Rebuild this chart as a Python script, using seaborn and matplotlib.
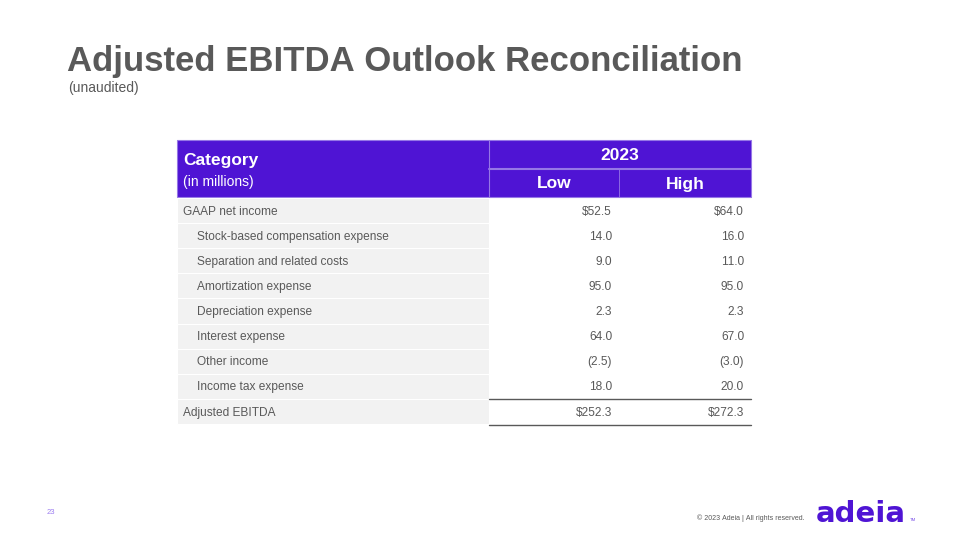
import matplotlib
matplotlib.use("Agg")
import matplotlib.pyplot as plt
from matplotlib.patches import Rectangle
import seaborn as sns

# ---- data ----
title = "Adjusted EBITDA Outlook Reconciliation"
subtitle = "(unaudited)"
year_label = "2023"
col_labels = ["Low", "High"]
categories = ["GAAP net income", "Stock-based compensation expense",
              "Separation and related costs", "Amortization expense",
              "Depreciation expense", "Interest expense", "Other income",
              "Income tax expense", "Adjusted EBITDA"]
indent = [0, 1, 1, 1, 1, 1, 1, 1, 0]
low_vals = ["$52.5", "14.0", "9.0", "95.0", "2.3", "64.0", "(2.5)", "18.0", "$252.3"]
high_vals = ["$64.0", "16.0", "11.0", "95.0", "2.3", "67.0", "(3.0)", "20.0", "$272.3"]

sns.set_theme(style="white")
plt.rcParams['font.family'] = ['Liberation Sans', 'DejaVu Sans']
plt.rcParams['text.kerning_factor'] = 6

PURPLE = "#4f14d4"
LIGHTP = "#9677e6"
GRAY_TXT = "#595959"
CELL_BG = "#f2f2f2"

fig = plt.figure(figsize=(9.6, 5.4), dpi=100)
ax = fig.add_axes([0, 0, 1, 1])
ax.set_xlim(0, 960)
ax.set_ylim(540, 0)
ax.axis("off")

# title
ax.text(67, 62, title, fontsize=25, fontweight="bold", color=GRAY_TXT, va="center", ha="left")
ax.text(68, 88, subtitle, fontsize=10, color=GRAY_TXT, va="center", ha="left")

# geometry
L, C1, C2, R = 177, 489, 619, 751
HT, HM, HB = 140, 169, 197
row_h = 25.1

# header
ax.add_patch(Rectangle((L, HT), R - L, HB - HT, facecolor=PURPLE, edgecolor=LIGHTP, lw=0.8))
ax.plot([C1, C1], [HT, HB], color=LIGHTP, lw=0.8)
ax.plot([C1, R], [HM, HM], color=LIGHTP, lw=1.5)
ax.plot([C2, C2], [HM, HB], color=LIGHTP, lw=0.6)
ax.text(183, 161, "Category", fontsize=12.5, fontweight="bold", color="white", va="center", ha="left")
ax.text(183, 182, "(in millions)", fontsize=10, color="white", va="center", ha="left")
ax.text((C1 + R) / 2, 155, year_label, fontsize=12.5, fontweight="bold", color="white", va="center", ha="center")
ax.text((C1 + C2) / 2, 184, col_labels[0], fontsize=12.5, fontweight="bold", color="white", va="center", ha="center")
ax.text((C2 + R) / 2, 184, col_labels[1], fontsize=12.5, fontweight="bold", color="white", va="center", ha="center")

# body
top = HB + 1
for i, (cat, ind, lo, hi) in enumerate(zip(categories, indent, low_vals, high_vals)):
    y0 = top + i * row_h
    yc = y0 + row_h / 2 + 1.2
    ax.add_patch(Rectangle((L, y0), C1 - L, row_h, facecolor=CELL_BG, edgecolor="white", lw=0.8))
    ax.text(183 + 14 * ind, yc, cat, fontsize=8.6, color=GRAY_TXT, va="center", ha="left")
    ax.text(612, yc, lo, fontsize=8.6, color=GRAY_TXT, va="center", ha="right")
    ax.text(744, yc, hi, fontsize=8.6, color=GRAY_TXT, va="center", ha="right")

last_top = top + (len(categories) - 1) * row_h
ax.plot([C1, R], [last_top, last_top], color=GRAY_TXT, lw=1.0)
ax.plot([C1, R], [last_top + row_h + 1, last_top + row_h + 1], color=GRAY_TXT, lw=1.0)

# footer
ax.text(47, 512, "23", fontsize=5.5, color="#9b7cf0", va="center", ha="left")
ax.text(805, 518, "\u00a9 2023 Adeia | All rights reserved.", fontsize=5, color=GRAY_TXT, va="center", ha="right")
ax.text(816, 522, "adeia", fontsize=21, fontweight="bold", color=PURPLE, va="baseline", ha="left",
        family="DejaVu Sans")
ax.text(910, 521, "TM", fontsize=3.2, color="#7b52e8", va="baseline", ha="left")

fig.savefig("out.png", dpi=100)
